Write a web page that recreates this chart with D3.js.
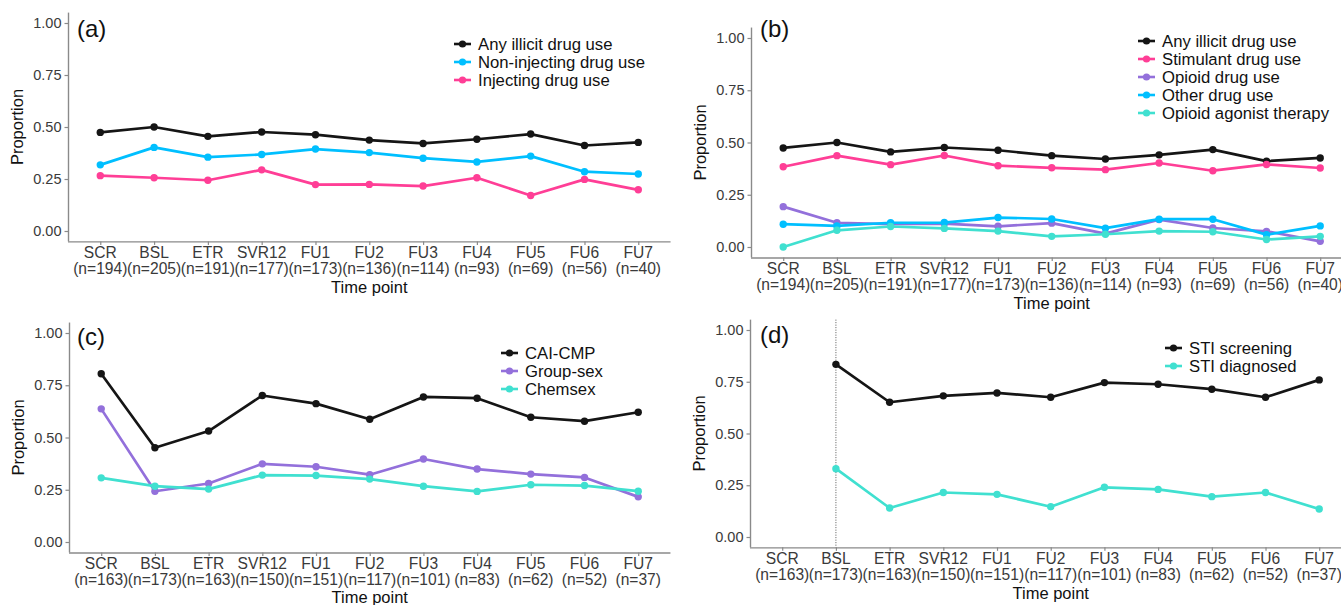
<!DOCTYPE html>
<html>
<head>
<meta charset="utf-8">
<script src="https://cdn.jsdelivr.net/npm/d3@7"></script>
<style>
  body { margin: 0; background: #fff; }
  svg { display: block; font-family: "Liberation Sans", Arial, sans-serif; }
</style>
</head>
<body>
<svg width="1341" height="605"></svg>
<script>
// time points and sample sizes
var timePoints = ["SCR", "BSL", "ETR", "SVR12", "FU1", "FU2", "FU3", "FU4", "FU5", "FU6", "FU7"];
var nDrug = [194, 205, 191, 177, 173, 136, 114, 93, 69, 56, 40];
var nSex = [163, 173, 163, 150, 151, 117, 101, 83, 62, 52, 37];

// (a) / (b) drug use
var anyIllicit = [0.474, 0.500, 0.455, 0.476, 0.463, 0.437, 0.421, 0.441, 0.466, 0.411, 0.426];
var nonInjecting = [0.318, 0.402, 0.355, 0.368, 0.394, 0.377, 0.350, 0.332, 0.360, 0.285, 0.274];
var injecting = [0.266, 0.256, 0.244, 0.294, 0.223, 0.224, 0.216, 0.256, 0.171, 0.248, 0.198];
var stimulant = [0.384, 0.437, 0.394, 0.438, 0.389, 0.379, 0.370, 0.402, 0.365, 0.395, 0.378];
var opioid = [0.193, 0.116, 0.109, 0.112, 0.099, 0.114, 0.064, 0.131, 0.091, 0.075, 0.027];
var otherDrug = [0.109, 0.101, 0.116, 0.117, 0.141, 0.134, 0.090, 0.133, 0.133, 0.059, 0.101];
var oat = [0.000, 0.080, 0.098, 0.089, 0.076, 0.051, 0.061, 0.076, 0.073, 0.036, 0.051];

// (c) sexual behaviour
var caiCmp = [0.805, 0.451, 0.531, 0.701, 0.662, 0.587, 0.694, 0.688, 0.597, 0.578, 0.621];
var groupSex = [0.637, 0.243, 0.280, 0.374, 0.360, 0.322, 0.397, 0.349, 0.325, 0.309, 0.216];
var chemsex = [0.307, 0.267, 0.253, 0.320, 0.318, 0.301, 0.267, 0.242, 0.274, 0.270, 0.243];

// (d) STI
var stiScreening = [null, 0.834, 0.651, 0.682, 0.696, 0.675, 0.746, 0.738, 0.714, 0.675, 0.759];
var stiDiagnosed = [null, 0.330, 0.140, 0.215, 0.206, 0.146, 0.240, 0.230, 0.195, 0.215, 0.135];

var yTicks = [0, 0.25, 0.5, 0.75, 1];

var BLACK = "#151515", PINK = "#ff3e96", BLUE = "#00bfff", PURPLE = "#9370db", TEAL = "#40e0d0";

var panels = [
  { tag: "(a)", left: 68, step: 53.8, y1: 23, y0: 231, n: nDrug,
    tagX: 77, tagY: 37, legX: 454, legY: 44,
    series: [
      { name: "Any illicit drug use", values: anyIllicit, color: BLACK },
      { name: "Non-injecting drug use", values: nonInjecting, color: BLUE },
      { name: "Injecting drug use", values: injecting, color: PINK }
    ] },
  { tag: "(b)", left: 751, step: 53.7, y1: 38, y0: 247, n: nDrug,
    tagX: 760, tagY: 37, legX: 1138, legY: 41,
    series: [
      { name: "Any illicit drug use", values: anyIllicit, color: BLACK },
      { name: "Stimulant drug use", values: stimulant, color: PINK },
      { name: "Opioid drug use", values: opioid, color: PURPLE },
      { name: "Other drug use", values: otherDrug, color: BLUE },
      { name: "Opioid agonist therapy", values: oat, color: TEAL }
    ] },
  { tag: "(c)", left: 69, step: 53.7, y1: 333, y0: 542, n: nSex,
    tagX: 77, tagY: 345, legX: 501, legY: 353,
    series: [
      { name: "CAI-CMP", values: caiCmp, color: BLACK },
      { name: "Group-sex", values: groupSex, color: PURPLE },
      { name: "Chemsex", values: chemsex, color: TEAL }
    ] },
  { tag: "(d)", left: 750, step: 53.7, y1: 330, y0: 537, n: nSex,
    tagX: 760, tagY: 343, legX: 1165, legY: 348, vline: "BSL",
    series: [
      { name: "STI screening", values: stiScreening, color: BLACK },
      { name: "STI diagnosed", values: stiDiagnosed, color: TEAL }
    ] }
];

var svg = d3.select("svg");

panels.forEach(function(p) {
  var g = svg.append("g");
  var right = p.left + p.step * 11.2;
  var span = p.y0 - p.y1;

  var x = d3.scalePoint().domain(timePoints).range([p.left, right]).padding(0.6);
  var y = d3.scaleLinear().domain([-0.05, 1.05]).range([p.y0 + 0.05 * span, p.y1 - 0.05 * span]);
  var bottom = y(-0.05), top = y(1.05);

  // axes
  var yAxis = g.append("g")
    .attr("transform", "translate(" + p.left + ",0)")
    .call(d3.axisLeft(y).tickValues(yTicks).tickFormat(d3.format(".2f")).tickSize(3.5).tickPadding(3));
  var xAxis = g.append("g")
    .attr("transform", "translate(0," + bottom + ")")
    .call(d3.axisBottom(x).tickSize(3.5).tickPadding(3).tickFormat(""));
  [xAxis, yAxis].forEach(function(a) {
    a.select(".domain").attr("stroke", "#8a8a8a").attr("stroke-width", 1.4);
    a.selectAll(".tick line").attr("stroke", "#8a8a8a").attr("stroke-width", 1.2);
  });
  yAxis.select(".domain").attr("d", "M0.5," + bottom + "V" + top);
  xAxis.select(".domain").attr("d", "M" + p.left + ",0.5H" + right);
  yAxis.selectAll(".tick text").attr("fill", "#3a3a3a").style("font-size", "14.5px").attr("font-family", null);

  // two-line x tick labels
  var xl = g.append("g").selectAll("text").data(timePoints).enter().append("text")
    .attr("x", function(d) { return x(d); })
    .attr("text-anchor", "middle")
    .attr("fill", "#3a3a3a")
    .style("font-size", "15.6px");
  xl.append("tspan").attr("x", function(d) { return x(d); }).attr("y", bottom + 17).text(function(d) { return d; });
  xl.append("tspan").attr("x", function(d) { return x(d); }).attr("y", bottom + 32.5)
    .text(function(d, i) { return "(n=" + p.n[i] + ")"; });

  // axis titles
  g.append("text")
    .attr("x", (p.left + right) / 2).attr("y", Math.min(bottom + 52, 603))
    .attr("text-anchor", "middle").style("font-size", "16.5px").attr("fill", "#111")
    .text("Time point");
  g.append("text")
    .attr("transform", "translate(" + (p.left - 45) + "," + ((bottom + top) / 2) + ") rotate(-90)")
    .attr("text-anchor", "middle").style("font-size", "16.5px").attr("fill", "#111")
    .text("Proportion");

  // panel tag
  g.append("text").attr("x", p.tagX).attr("y", p.tagY)
    .style("font-size", "24px").attr("fill", "#111").text(p.tag);

  // dotted reference line
  if (p.vline) {
    g.append("line")
      .attr("x1", x(p.vline)).attr("x2", x(p.vline))
      .attr("y1", top).attr("y2", bottom)
      .attr("stroke", "#555").attr("stroke-width", 1).attr("stroke-dasharray", "1,1.5");
  }

  // lines and points
  var line = d3.line()
    .defined(function(d) { return d != null; })
    .x(function(d, i) { return x(timePoints[i]); })
    .y(function(d) { return y(d); });

  p.series.forEach(function(s) {
    g.append("path")
      .attr("d", line(s.values))
      .attr("fill", "none")
      .attr("stroke", s.color)
      .attr("stroke-width", 2.7)
      .attr("stroke-linejoin", "round");
    g.selectAll(null)
      .data(s.values.map(function(v, i) { return { v: v, t: timePoints[i] }; })
        .filter(function(d) { return d.v != null; }))
      .enter().append("circle")
      .attr("cx", function(d) { return x(d.t); })
      .attr("cy", function(d) { return y(d.v); })
      .attr("r", 3.7)
      .attr("fill", s.color);
  });

  // legend
  var leg = g.append("g").attr("transform", "translate(" + p.legX + "," + p.legY + ")");
  var item = leg.selectAll("g").data(p.series).enter().append("g")
    .attr("transform", function(d, i) { return "translate(0," + (i * 18) + ")"; });
  item.append("line").attr("x1", 0).attr("x2", 17).attr("y1", 0).attr("y2", 0)
    .attr("stroke", function(d) { return d.color; }).attr("stroke-width", 2.6);
  item.append("circle").attr("cx", 8.5).attr("cy", 0).attr("r", 3.6)
    .attr("fill", function(d) { return d.color; });
  item.append("text").attr("x", 24).attr("y", 0).attr("dy", "0.35em")
    .style("font-size", "16.7px").attr("fill", "#111")
    .text(function(d) { return d.name; });
});
</script>
</body>
</html>
